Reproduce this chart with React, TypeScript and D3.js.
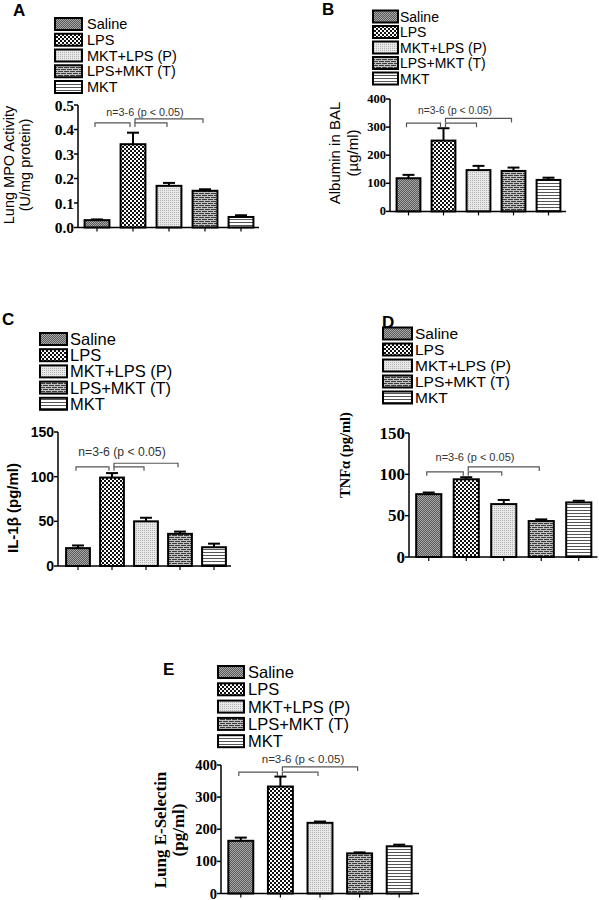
import React from "react";
import * as d3 from "d3";

const groups = ["Saline", "LPS", "MKT+LPS (P)", "LPS+MKT (T)", "MKT"];
const patternIds = ["pSaline", "pLPS", "pP", "pT", "pMKT"];

const mpoMean = [0.03, 0.34, 0.17, 0.15, 0.043];
const mpoErr = [0.003, 0.047, 0.012, 0.006, 0.007];
const mpoTicks = [0, 0.1, 0.2, 0.3, 0.4, 0.5];

const albMean = [118, 252, 147, 144, 112];
const albErr = [12, 44, 15, 12, 8];
const albTicks = [0, 100, 200, 300, 400];

const il1Mean = [20, 99, 50, 36, 21];
const il1Err = [3, 5, 4, 2.5, 4];
const il1Ticks = [0, 50, 100, 150];

const tnfMean = [76, 94, 64, 43.5, 66];
const tnfErr = [2, 2.5, 5, 2, 2];
const tnfTicks = [0, 50, 100, 150];

const eselMean = [164, 333, 220, 125, 147];
const eselErr = [10, 31, 4, 3, 5];
const eselTicks = [0, 100, 200, 300, 400];

const sigLabel = "n=3-6 (p < 0.05)";

const SANS = "'Liberation Sans', Arial, Helvetica, sans-serif";
const SERIF = "'Liberation Serif', 'Times New Roman', serif";

type Cfg = {
  letter: string; letterX: number; letterY: number;
  legX: number; legY: number; legStep: number; legFont: number; swW: number; swH: number; legTextX: number;
  axisX: number; band0: number; band1: number; pad: number;
  yBase: number; yTop: number; dMax: number; ticks: number[]; fmt: (v: number) => string;
  tickFamily: string; tickSize: number; tickWeight: string;
  yLabel: string[]; yLabelX: number[]; yLabelY: number; yLabelFamily: string; yLabelSize: number; yLabelWeight: string;
  bLow: number; bHigh: number; sigV: number; sigX: number; sigSize: number;
  mean: number[]; err: number[];
};

const panels: Cfg[] = [
  {
    letter: "A", letterX: 13, letterY: 16,
    legX: 55, legY: 24, legStep: 15.75, legFont: 14.5, swW: 27, swH: 12, legTextX: 87,
    axisX: 78, band0: 79, band1: 259, pad: 0.31,
    yBase: 227.5, yTop: 105, dMax: 0.5, ticks: mpoTicks, fmt: d3.format(".1f"),
    tickFamily: SERIF, tickSize: 15.5, tickWeight: "bold",
    yLabel: ["Lung MPO Activity", "(U/mg protein)"], yLabelX: [9, 25], yLabelY: 165, yLabelFamily: SANS, yLabelSize: 14.5, yLabelWeight: "normal",
    bLow: 0.427, bHigh: 0.443, sigV: 0.47, sigX: 145, sigSize: 10.8,
    mean: mpoMean, err: mpoErr,
  },
  {
    letter: "B", letterX: 322, letterY: 15,
    legX: 373, legY: 16.5, legStep: 15.5, legFont: 14, swW: 25, swH: 12, legTextX: 400,
    axisX: 390, band0: 391, band1: 566, pad: 0.32,
    yBase: 211.4, yTop: 99, dMax: 400, ticks: albTicks, fmt: d3.format("d"),
    tickFamily: SERIF, tickSize: 12.5, tickWeight: "bold",
    yLabel: ["Albumin in BAL", "(µg/ml)"], yLabelX: [334, 352], yLabelY: 153, yLabelFamily: SANS, yLabelSize: 15, yLabelWeight: "normal",
    bLow: 314, bHigh: 331, sigV: 360, sigX: 455, sigSize: 10.3,
    mean: albMean, err: albErr,
  },
  {
    letter: "C", letterX: 2, letterY: 325,
    legX: 40, legY: 339, legStep: 16.2, legFont: 16.5, swW: 27, swH: 12, legTextX: 70,
    axisX: 58, band0: 61, band1: 231, pad: 0.3,
    yBase: 566, yTop: 432, dMax: 150, ticks: il1Ticks, fmt: d3.format("d"),
    tickFamily: SANS, tickSize: 14, tickWeight: "bold",
    yLabel: ["IL-1β (pg/ml)"], yLabelX: [12], yLabelY: 508, yLabelFamily: SANS, yLabelSize: 15, yLabelWeight: "bold",
    bLow: 111, bHigh: 115, sigV: 128, sigX: 122, sigSize: 12.2,
    mean: il1Mean, err: il1Err,
  },
  {
    letter: "D", letterX: 382, letterY: 328,
    legX: 383, legY: 333.5, legStep: 16, legFont: 15.5, swW: 29, swH: 12, legTextX: 415,
    axisX: 409, band0: 410, band1: 597.5, pad: 0.33,
    yBase: 557, yTop: 433, dMax: 150, ticks: tnfTicks, fmt: d3.format("d"),
    tickFamily: SERIF, tickSize: 17, tickWeight: "bold",
    yLabel: ["TNFα (pg/ml)"], yLabelX: [345], yLabelY: 455, yLabelFamily: SERIF, yLabelSize: 14.5, yLabelWeight: "bold",
    bLow: 103, bHigh: 109, sigV: 121, sigX: 475, sigSize: 11,
    mean: tnfMean, err: tnfErr,
  },
  {
    letter: "E", letterX: 163, letterY: 675,
    legX: 218, legY: 672, legStep: 17.3, legFont: 16.5, swW: 26, swH: 12, legTextX: 248,
    axisX: 221, band0: 221, band1: 419, pad: 0.37,
    yBase: 893.5, yTop: 765, dMax: 400, ticks: eselTicks, fmt: d3.format("d"),
    tickFamily: SERIF, tickSize: 14.5, tickWeight: "bold",
    yLabel: ["Lung E-Selectin", "(pg/ml)"], yLabelX: [160, 178], yLabelY: 830, yLabelFamily: SERIF, yLabelSize: 17, yLabelWeight: "bold",
    bLow: 378, bHigh: 394, sigV: 418, sigX: 303, sigSize: 11.5,
    mean: eselMean, err: eselErr,
  },
];

function Panel({ c }: { c: Cfg }) {
  const x = d3.scaleBand<string>().domain(groups).range([c.band0, c.band1]).paddingInner(c.pad).paddingOuter(c.pad / 2);
  const y = d3.scaleLinear().domain([0, c.dMax]).range([c.yBase, c.yTop]);
  const bw = x.bandwidth();
  const cx = (i: number) => (x(groups[i]) as number) + bw / 2;
  const capW = Math.min(12, bw * 0.5);
  const yl = y(c.bLow), yh = y(c.bHigh);
  const drop = 4;
  const brackets = [
    { a: cx(0) - 2, b: cx(1) - 3, yy: yl },
    { a: cx(1) + 2, b: cx(2) - 2, yy: yl },
    { a: cx(1) + 2, b: cx(3) - 2, yy: yh },
  ];
  return (
    <g>
      <text x={c.letterX} y={c.letterY} fontFamily={SANS} fontWeight="bold" fontSize={17}>{c.letter}</text>
      {groups.map((g, i) => {
        const cy = c.legY + i * c.legStep;
        return (
          <g key={g}>
            <rect x={c.legX} y={cy - c.swH / 2} width={c.swW} height={c.swH} fill={`url(#${patternIds[i]})`} stroke="#000" strokeWidth={2} />
            <text x={c.legTextX} y={cy} dominantBaseline="central" fontFamily={SANS} fontSize={c.legFont}>{g}</text>
          </g>
        );
      })}
      {groups.map((g, i) => {
        const top = y(c.mean[i]);
        const et = y(c.mean[i] + c.err[i]);
        return (
          <g key={g}>
            <line x1={cx(i)} x2={cx(i)} y1={top} y2={et} stroke="#000" strokeWidth={2} />
            <line x1={cx(i) - capW / 2} x2={cx(i) + capW / 2} y1={et} y2={et} stroke="#000" strokeWidth={2} />
            <rect x={x(g)} y={top} width={bw} height={c.yBase - top} fill={`url(#${patternIds[i]})`} stroke="#000" strokeWidth={2} />
          </g>
        );
      })}
      <line x1={c.axisX} x2={c.axisX} y1={c.yBase} y2={c.yTop} stroke="#000" strokeWidth={1.5} />
      <line x1={c.axisX} x2={c.band1} y1={c.yBase} y2={c.yBase} stroke="#000" strokeWidth={1.5} />
      {c.ticks.map((t) => (
        <g key={t}>
          <line x1={c.axisX - 4} x2={c.axisX} y1={y(t)} y2={y(t)} stroke="#000" strokeWidth={1.5} />
          <text x={c.axisX - 4} y={y(t)} textAnchor="end" dominantBaseline="central" fontFamily={c.tickFamily} fontWeight={c.tickWeight} fontSize={c.tickSize}>{c.fmt(t)}</text>
        </g>
      ))}
      {groups.map((g, i) => (
        <line key={g} x1={cx(i)} x2={cx(i)} y1={c.yBase} y2={c.yBase + 4} stroke="#000" strokeWidth={1.2} />
      ))}
      {c.yLabel.map((l, i) => (
        <text key={l} transform={`translate(${c.yLabelX[i]},${c.yLabelY}) rotate(-90)`} textAnchor="middle" dominantBaseline="central" fontFamily={c.yLabelFamily} fontWeight={c.yLabelWeight} fontSize={c.yLabelSize}>{l}</text>
      ))}
      {brackets.map((b, i) => (
        <path key={i} d={`M${b.a},${b.yy + drop}V${b.yy}H${b.b}V${b.yy + drop}`} fill="none" stroke="#555" strokeWidth={1.2} />
      ))}
      <text x={c.sigX} y={y(c.sigV)} textAnchor="middle" dominantBaseline="central" fontFamily={SANS} fontSize={c.sigSize} fill="#333">{sigLabel}</text>
    </g>
  );
}

export default function App() {
  return (
    <svg width={599} height={900} style={{ position: "absolute", left: 0, top: 0, background: "#fff" }}>
      <defs>
        <pattern id="pSaline" width={2} height={2} patternUnits="userSpaceOnUse">
          <rect width={2} height={2} fill="#5a5a5a" />
          <rect width={1} height={1} fill="#a8a8a8" />
          <rect x={1} y={1} width={1} height={1} fill="#a8a8a8" />
        </pattern>
        <pattern id="pLPS" width={4} height={4} patternUnits="userSpaceOnUse">
          <rect width={4} height={4} fill="#fff" />
          <rect width={2} height={2} fill="#111" />
          <rect x={2} y={2} width={2} height={2} fill="#111" />
        </pattern>
        <pattern id="pP" width={2} height={2} patternUnits="userSpaceOnUse">
          <rect width={2} height={2} fill="#e8e8e8" />
          <rect width={1} height={1} fill="#b5b5b5" />
        </pattern>
        <pattern id="pT" width={6} height={4} patternUnits="userSpaceOnUse">
          <rect width={6} height={4} fill="#3a3a3a" />
          <rect y={0} width={6} height={1} fill="#c0c0c0" />
          <rect x={0} y={1} width={1} height={1} fill="#c0c0c0" />
          <rect y={2} width={6} height={1} fill="#c0c0c0" />
          <rect x={3} y={3} width={1} height={1} fill="#c0c0c0" />
        </pattern>
        <pattern id="pMKT" width={3} height={3} patternUnits="userSpaceOnUse">
          <rect width={3} height={3} fill="#fff" />
          <rect y={0} width={3} height={1} fill="#555" />
        </pattern>
      </defs>
      {panels.map((p) => (
        <Panel key={p.letter} c={p} />
      ))}
    </svg>
  );
}
